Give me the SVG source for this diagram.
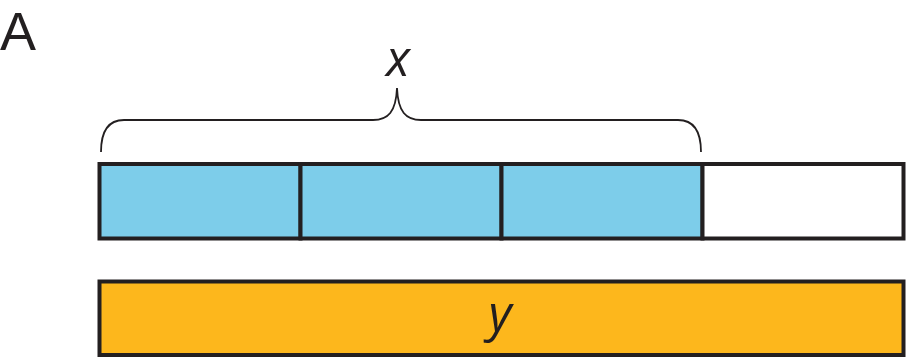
<svg xmlns="http://www.w3.org/2000/svg" width="906" height="358" viewBox="0 0 906 358">
<style>
.lbl{font-family:"Open Sans","Liberation Sans",sans-serif;fill:#231f20}
.it{font-style:italic}
.bar{stroke:#231f20;stroke-width:4}
</style>
<rect width="906" height="358" fill="#fff"/>
<text x="0" y="50" font-size="54" font-family="'Liberation Sans',sans-serif" fill="#231f20">A</text>
<g id="brace">
<path d="M101,152 C101,132 108,120 124,120 L373,120 C388,120 396,112 397,88 C398,112 406,120 421,120 L678,120 C694,120 701,132 701,152" fill="none" stroke="#231f20" stroke-width="1.8"/>
<text class="lbl it" x="398" y="76" font-size="50" text-anchor="middle">x</text>
</g>
<g id="bar-x">
<rect class="bar" x="99.5" y="164" width="201" height="74.5" fill="#7dcdea"/>
<rect class="bar" x="300.5" y="164" width="201" height="74.5" fill="#7dcdea"/>
<rect class="bar" x="501.5" y="164" width="201" height="74.5" fill="#7dcdea"/>
<rect class="bar" x="702.5" y="164" width="201" height="74.5" fill="#fff"/>
</g>
<g id="bar-y">
<rect class="bar" x="99.5" y="281.5" width="804" height="73.5" fill="#fdb71c"/>
<text class="lbl it" x="500" y="331" font-size="50" text-anchor="middle">y</text>
</g>
</svg>
